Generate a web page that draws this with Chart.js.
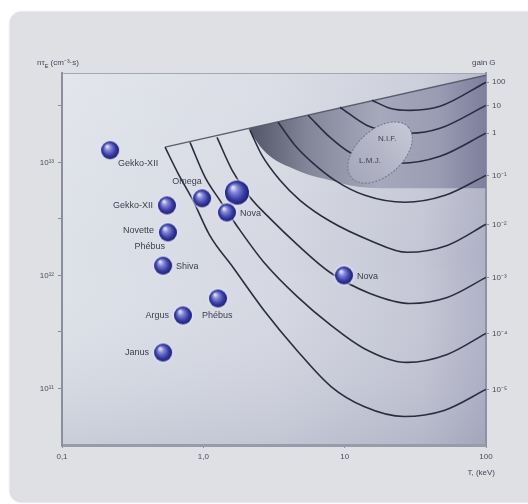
<!DOCTYPE html>
<html>
<head>
<meta charset="utf-8">
<script src="https://cdn.jsdelivr.net/npm/chart.js@4.4.1/dist/chart.umd.min.js"></script>
<style>
  html, body { margin: 0; background: #fff; }
  #card { position: absolute; left: 10px; top: 12px; width: 540px; height: 490px;
          background: #dfe0e3; border-radius: 12px; box-shadow: 0 0 2px rgba(0,0,0,0.3); }
  #wrap { position: absolute; left: 0; top: 0; width: 528px; height: 504px; }
</style>
</head>
<body>
<div id="card"></div>
<div id="wrap"><canvas id="lawson" width="528" height="504"></canvas></div>
<script>
// Diagramme de Lawson : n.tau en fonction de T, courbes de gain G

const T_TICKS = [0.1, 1, 10, 100];
const T_LABELS = ["0,1", "1,0", "10", "100"];
const NT_TICKS = [1e11, 3.16e11, 1e12, 3.16e12, 1e13, 3.16e13];
const NT_LABELS = ["10¹¹", "", "10¹²", "", "10¹³", ""];
const GAIN_LABELS = ["100", "10", "1", "10⁻¹", "10⁻²", "10⁻³", "10⁻⁴", "10⁻⁵"];

// courbes de gain (T en keV, n.tau en cm-3.s)
const g100T = [15.6, 20.9, 29.0, 47.3, 100];
const g100N = [3.54e13, 3.01e13, 2.88e13, 3.13e13, 5.11e13];
const g10T = [9.27, 14.4, 20.9, 29.0, 47.3, 100];
const g10N = [3.07e13, 2.12e13, 1.88e13, 1.81e13, 2.0e13, 3.19e13];
const g1T = [5.51, 7.89, 10.9, 16.4, 24.7, 47.3, 100];
const g1N = [2.61e13, 1.66e13, 1.22e13, 1.02e13, 9.8e12, 1.13e13, 1.81e13];
const gm1T = [3.38, 4.46, 5.88, 8.55, 13.9, 26.7, 51.4, 100];
const gm1N = [2.26e13, 1.41e13, 1.0e13, 6.93e12, 5.11e12, 4.43e12, 5.11e12, 7.67e12];
const gm2T = [2.14, 2.6, 3.49, 4.83, 7.89, 15.1, 27.7, 53.1, 100];
const gm2N = [1.92e13, 1.15e13, 6.93e12, 4.61e12, 3.01e12, 2.04e12, 1.6e12, 1.84e12, 2.83e12];
const gm3T = [1.25, 1.6, 2.14, 2.96, 4.6, 7.89, 15.1, 29.0, 53.1, 100];
const gm3N = [1.66e13, 8.5e12, 4.9e12, 3.19e12, 1.88e12, 1.06e12, 6.93e11, 5.65e11, 6.38e11, 9.6e11];
const gm4T = [0.805, 1.03, 1.31, 1.82, 2.69, 4.6, 8.01, 13.7, 27.7, 53.1, 100];
const gm4N = [1.5e13, 7.36e12, 4.61e12, 2.5e12, 1.3e12, 6.52e11, 3.61e11, 2.26e11, 1.7e11, 2.0e11, 3.07e11];
const gm5T = [0.536, 0.662, 0.845, 1.11, 1.62, 2.69, 4.6, 8.01, 13.7, 26.3, 50.5, 100];
const gm5N = [1.36e13, 8.0e12, 4.61e12, 2.26e12, 1.18e12, 4.9e11, 2.17e11, 1.04e11, 6.93e10, 5.65e10, 6.39e10, 9.8e10];

// limite haute des courbes et zone grisée
const boundT = [0.536, 100];
const boundN = [1.36e13, 5.89e13];
const shadeT = [2.07, 2.52, 3.11, 4.11, 5.42, 7.89, 10.9, 20.9, 47.3, 100];
const shadeN = [2.0e13, 1.39e13, 1.08e13, 9.03e12, 7.83e12, 6.93e12, 6.25e12, 5.89e12, 5.89e12, 5.89e12];

// machines
const machineNames = ["Gekko-XII", "Gekko-XII", "Novette/Phébus", "Shiva", "Argus", "Phébus", "Janus", "Omega", "", "Nova", "Nova"];
const machineT = [0.219, 0.553, 0.562, 0.519, 0.718, 1.27, 0.519, 0.98, 1.73, 1.47, 9.9];
const machineNt = [1.28e13, 4.16e12, 2.4e12, 1.22e12, 4.43e11, 6.25e11, 2.08e11, 4.8e12, 5.4e12, 3.6e12, 1.0e12];
const labelSide = ["br", "l", "l2", "r", "l", "bl", "l", "a", "", "r", "r"];
const ballSize = [9, 9, 9, 9, 9, 9, 9, 9, 12, 9, 9];

// N.I.F. / L.M.J.
const facilityNames = ["N.I.F.", "L.M.J."];
const facilityT = [20.0, 15.1];
const facilityNt = [1.63e13, 1.04e13];
const ellipseT = [17.8];
const ellipseNt = [1.22e13];

const FONT = '"Liberation Sans", Arial, sans-serif';
const NT_MIN = Math.pow(10, 10.5);
const NT_MAX = Math.pow(10, 13.79);

const pts = (ts, ns) => ts.map((t, i) => ({ x: t, y: ns[i] }));

const gainCurves = [
  [g100T, g100N], [g10T, g10N], [g1T, g1N], [gm1T, gm1N],
  [gm2T, gm2N], [gm3T, gm3N], [gm4T, gm4N], [gm5T, gm5N],
];
const gainEnds = gainCurves.map(([, n]) => n[n.length - 1]);

function sphere(r) {
  const pad = 3;
  const s = 2 * (r + pad);
  const c = document.createElement("canvas");
  c.width = s; c.height = s;
  const g = c.getContext("2d");
  const m = s / 2;
  const halo = g.createRadialGradient(m, m, r - 1, m, m, r + pad);
  halo.addColorStop(0, "rgba(222,224,255,0.95)");
  halo.addColorStop(1, "rgba(222,224,255,0)");
  g.fillStyle = halo;
  g.beginPath(); g.arc(m, m, r + pad, 0, Math.PI * 2); g.fill();
  const body = g.createRadialGradient(m - r * 0.35, m - r * 0.45, r * 0.05, m, m, r);
  body.addColorStop(0, "#e4e6ff");
  body.addColorStop(0.3, "#8487d8");
  body.addColorStop(0.7, "#3a3da4");
  body.addColorStop(1, "#1d1f6e");
  g.fillStyle = body;
  g.beginPath(); g.arc(m, m, r, 0, Math.PI * 2); g.fill();
  return c;
}

const plotBg = {
  id: "plotBg",
  beforeDraw(chart) {
    const { ctx, chartArea: a } = chart;
    ctx.save();
    const h = ctx.createLinearGradient(a.left, 0, a.right, 0);
    h.addColorStop(0, "#dde1e8");
    h.addColorStop(0.5, "#d5d8e2");
    h.addColorStop(0.85, "#c4c6d5");
    h.addColorStop(1, "#aeb0c4");
    ctx.fillStyle = h;
    ctx.fillRect(a.left, a.top, a.width, a.height);
    const v = ctx.createLinearGradient(0, a.top, 0, a.bottom);
    v.addColorStop(0, "rgba(255,255,255,0.15)");
    v.addColorStop(0.5, "rgba(255,255,255,0)");
    v.addColorStop(1, "rgba(110,115,145,0.18)");
    ctx.fillStyle = v;
    ctx.fillRect(a.left, a.top, a.width, a.height);
    ctx.restore();
  },
};

const overlay = {
  id: "overlay",
  afterDatasetsDraw(chart) {
    const { ctx, chartArea: a, scales: { x, y } } = chart;
    ctx.save();
    // ellipse N.I.F. / L.M.J.
    const ex = x.getPixelForValue(ellipseT[0]);
    const ey = y.getPixelForValue(ellipseNt[0]);
    const eg = ctx.createLinearGradient(ex - 30, ey + 25, ex + 30, ey - 25);
    eg.addColorStop(0, "#a4a6ba");
    eg.addColorStop(0.5, "#b4b6c7");
    eg.addColorStop(1, "#c6c8d6");
    ctx.beginPath();
    ctx.ellipse(ex, ey, 38, 23, -0.73, 0, Math.PI * 2);
    ctx.fillStyle = eg;
    ctx.fill();
    ctx.setLineDash([2, 1.5]);
    ctx.strokeStyle = "#777a8f";
    ctx.lineWidth = 1.1;
    ctx.stroke();
    ctx.setLineDash([]);
    ctx.font = "8px " + FONT;
    ctx.fillStyle = "#3e4152";
    ctx.textAlign = "center";
    ctx.textBaseline = "middle";
    facilityNames.forEach((n, i) => {
      ctx.fillText(n, x.getPixelForValue(facilityT[i]), y.getPixelForValue(facilityNt[i]));
    });

    // noms des machines
    ctx.font = "9px " + FONT;
    ctx.fillStyle = "#3b3e4e";
    machineNames.forEach((name, i) => {
      if (!name) return;
      const px = x.getPixelForValue(machineT[i]);
      const py = y.getPixelForValue(machineNt[i]);
      const side = labelSide[i];
      if (side === "r") { ctx.textAlign = "left"; ctx.fillText(name, px + 13, py + 1); }
      else if (side === "l") { ctx.textAlign = "right"; ctx.fillText(name, px - 14, py); }
      else if (side === "br") { ctx.textAlign = "left"; ctx.fillText(name, px + 8, py + 13); }
      else if (side === "bl") { ctx.textAlign = "left"; ctx.fillText(name, px - 16, py + 17); }
      else if (side === "a") { ctx.textAlign = "center"; ctx.fillText(name, px - 15, py - 17); }
      else if (side === "l2") {
        const [a1, a2] = name.split("/");
        ctx.textAlign = "right";
        ctx.fillText(a1, px - 14, py - 2);
        ctx.fillText(a2, px - 3, py + 14);
      }
    });

    // cadre haut
    ctx.strokeStyle = "#a3a6b3";
    ctx.lineWidth = 1;
    ctx.beginPath();
    ctx.moveTo(a.left, a.top + 0.5);
    ctx.lineTo(a.right, a.top + 0.5);
    ctx.stroke();

    // titres d'axes
    ctx.fillStyle = "#44475a";
    ctx.font = "8px " + FONT;
    ctx.textAlign = "left";
    ctx.textBaseline = "middle";
    let tx = a.left - 25;
    const ty = a.top - 10;
    ctx.fillText("nτ", tx, ty);
    tx += ctx.measureText("nτ").width;
    ctx.font = "6px " + FONT;
    ctx.fillText("E", tx, ty + 3);
    tx += ctx.measureText("E").width + 2;
    ctx.font = "8px " + FONT;
    ctx.fillText("(cm⁻³·s)", tx, ty);
    ctx.fillText("gain G", a.right - 14, ty);
    ctx.textAlign = "right";
    ctx.fillText("T, (keV)", a.right + 9, a.bottom + 28);
    ctx.restore();
  },
};

const lineBase = {
  borderColor: "#2a2d40",
  borderWidth: 1.6,
  pointRadius: 0,
  fill: false,
  cubicInterpolationMode: "monotone",
  order: 2,
};

const datasets = [
  {
    label: "limite",
    data: pts(boundT, boundN),
    borderColor: "#5a5d6e",
    borderWidth: 1.3,
    pointRadius: 0,
    fill: false,
    order: 3,
  },
  {
    label: "zone",
    data: pts(shadeT, shadeN),
    borderWidth: 0,
    pointRadius: 0,
    cubicInterpolationMode: "monotone",
    fill: 0,
    order: 10,
    backgroundColor(c) {
      const a = c.chart.chartArea;
      if (!a) return "#8f91a4";
      const xs = c.chart.scales.x;
      const g = c.chart.ctx.createLinearGradient(xs.getPixelForValue(shadeT[0]), 0, a.right, 0);
      g.addColorStop(0, "#515366");
      g.addColorStop(0.25, "#838598");
      g.addColorStop(0.55, "#a6a8bb");
      g.addColorStop(0.8, "#9a9cb4");
      g.addColorStop(1, "#7d7f9c");
      return g;
    },
  },
  ...gainCurves.map(([t, n], i) => ({ ...lineBase, label: "G " + GAIN_LABELS[i], data: pts(t, n) })),
  {
    label: "machines",
    data: pts(machineT, machineNt),
    showLine: false,
    pointStyle: ballSize.map((r) => sphere(r)),
    pointRadius: ballSize,
    order: 0,
  },
];

function logAxis(extra) {
  return Object.assign({
    type: "logarithmic",
    min: NT_MIN,
    max: NT_MAX,
    bounds: "data",
    grid: { drawOnChartArea: false, drawTicks: true, tickLength: 4, color: "#8b8e9c" },
    border: { color: "#8b8e9c", width: 2 },
    ticks: { autoSkip: false, font: { size: 8, family: FONT }, color: "#4a4d5b", padding: 4 },
  }, extra);
}

new Chart(document.getElementById("lawson"), {
  type: "line",
  data: { datasets },
  plugins: [plotBg, overlay],
  options: {
    responsive: false,
    animation: false,
    events: [],
    layout: { padding: { top: 73, left: 0, right: 0, bottom: 0 } },
    plugins: { legend: { display: false }, tooltip: { enabled: false } },
    scales: {
      x: {
        type: "logarithmic",
        min: 0.1,
        max: 100,
        bounds: "data",
        afterBuildTicks: (s) => { s.ticks = T_TICKS.map((v) => ({ value: v })); },
        afterFit: (s) => { s.height = 59; },
        grid: { drawOnChartArea: false, drawTicks: true, tickLength: 3, color: "#8b8e9c" },
        border: { color: "#989baa", width: 3 },
        ticks: {
          autoSkip: false, maxRotation: 0, padding: 4,
          font: { size: 8, family: FONT }, color: "#4a4d5b",
          callback: (v, i) => T_LABELS[i],
        },
      },
      y: logAxis({
        position: "left",
        afterBuildTicks: (s) => { s.ticks = NT_TICKS.map((v) => ({ value: v })); },
        afterFit: (s) => { s.width = 62; },
        ticks: {
          autoSkip: false, padding: 4, font: { size: 8, family: FONT }, color: "#4a4d5b",
          callback: (v, i) => NT_LABELS[i],
        },
      }),
      gain: logAxis({
        position: "right",
        afterBuildTicks: (s) => { s.ticks = gainEnds.map((v) => ({ value: v })); },
        afterFit: (s) => { s.width = 42; },
        grid: { drawOnChartArea: false, drawTicks: true, tickLength: 3, color: "#8b8e9c" },
        border: { color: "#8f92a6", width: 2 },
        ticks: {
          autoSkip: false, padding: 3, font: { size: 8, family: FONT }, color: "#4a4d5b",
          callback: (v, i) => GAIN_LABELS[i],
        },
      }),
    },
  },
});
</script>
</body>
</html>
